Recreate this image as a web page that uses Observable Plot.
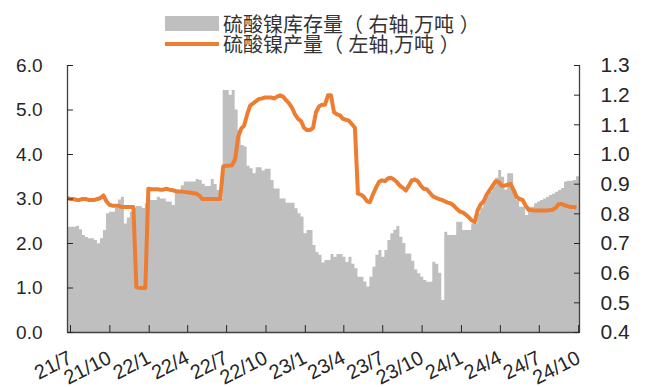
<!DOCTYPE html>
<html><head><meta charset="utf-8">
<script src="https://cdn.jsdelivr.net/npm/d3@7"></script>
<script src="https://cdn.jsdelivr.net/npm/@observablehq/plot@0.6"></script>
<style>
html,body{margin:0;padding:0;background:#fff;}
#wrap{width:651px;height:387px;position:relative;overflow:hidden;font-family:"Liberation Sans",Arial,"Noto Sans CJK SC",sans-serif;}
#legend{position:relative;height:56px;width:651px;}
.sw{position:absolute;left:165px;width:54px;}
.lt{position:absolute;left:223px;font-size:20px;line-height:20px;color:#333;white-space:nowrap;}
#chart svg{display:block;}
</style></head><body>
<div id="wrap">
  <div id="legend">
    <div class="sw" style="top:16px;height:15px;background:#bfbfbf;"></div>
    <div class="lt" id="lab1" style="top:14.5px;"></div>
    <div class="sw" style="top:42px;height:4px;background:#ED7D31;"></div>
    <div class="lt" id="lab2" style="top:35px;"></div>
  </div>
  <div id="chart"></div>
</div>
<script>
// ---- data ----
const seriesNames = ["硫酸镍库存量（ 右轴,万吨 ）", "硫酸镍产量（ 左轴,万吨 ）"];
const firstWeek = "2021-07-01";   // weekly observations
const axisEnd = "2024-10-10";
const tickDates = ["2021-07-01","2021-10-01","2022-01-01","2022-04-01","2022-07-01","2022-10-01","2023-01-01","2023-04-01","2023-07-01","2023-10-01","2024-01-01","2024-04-01","2024-07-01","2024-10-01"];
const tickLabels = ["21/7","21/10","22/1","22/4","22/7","22/10","23/1","23/4","23/7","23/10","24/1","24/4","24/7","24/10"];
const leftTicks = [0, 1, 2, 3, 4, 5, 6];
const rightTicks = [0.4, 0.5, 0.6, 0.7, 0.8, 0.9, 1.0, 1.1, 1.2, 1.3];
// inventory (right axis, 万吨)
const inventory = [
0.755,0.755,0.755,0.758,0.746,0.727,0.72,0.716,0.716,0.71,
0.699,0.716,0.744,0.8,0.805,0.805,0.818,0.847,0.856,0.766,
0.786,0.805,0.818,0.825,0.825,0.818,0.834,0.845,0.845,0.845,
0.856,0.85,0.85,0.84,0.84,0.828,0.879,0.879,0.895,0.907,
0.907,0.907,0.907,0.916,0.912,0.9,0.892,0.892,0.916,0.899,
0.879,0.85,1.216,1.216,1.2,1.216,1.15,1.081,1.03,1.025,
0.96,0.952,0.935,0.955,0.955,0.944,0.95,0.95,0.912,0.884,
0.884,0.85,0.85,0.836,0.836,0.836,0.817,0.8,0.789,0.733,
0.744,0.744,0.693,0.67,0.66,0.634,0.643,0.643,0.663,0.654,
0.663,0.663,0.654,0.636,0.654,0.63,0.615,0.586,0.586,0.57,
0.553,0.586,0.62,0.66,0.676,0.654,0.676,0.71,0.733,0.745,
0.757,0.721,0.7,0.665,0.665,0.64,0.611,0.598,0.586,0.575,
0.569,0.569,0.637,0.63,0.6,0.508,0.738,0.727,0.727,0.727,
0.772,0.772,0.744,0.744,0.744,0.766,0.766,0.8,0.82,0.84,
0.86,0.873,0.89,0.92,0.946,0.923,0.88,0.935,0.935,0.88,
0.845,0.822,0.822,0.794,0.822,0.822,0.834,0.84,0.845,0.85,
0.856,0.862,0.866,0.873,0.879,0.885,0.907,0.91,0.91,0.912,
0.925];
// production (left axis, 万吨)
const production = [
3.02,3.0,3.0,2.98,2.98,3.0,3.0,2.98,2.98,2.98,
3.0,3.02,3.08,2.95,2.87,2.85,2.85,2.85,2.82,2.82,
2.82,2.82,2.82,1.02,1.0,1.0,1.0,3.23,3.22,3.22,
3.22,3.21,3.21,3.23,3.21,3.2,3.18,3.17,3.17,3.16,
3.15,3.14,3.13,3.12,3.08,3.0,3.0,3.0,3.0,3.0,
3.0,3.0,3.73,3.75,3.75,3.76,3.9,4.4,4.58,4.65,
4.9,5.1,5.15,5.2,5.25,5.26,5.28,5.28,5.28,5.26,
5.3,5.33,5.3,5.22,5.15,5.05,4.9,4.8,4.75,4.6,
4.55,4.55,4.6,4.95,5.08,5.12,5.12,5.33,5.33,4.95,
4.9,4.88,4.8,4.78,4.76,4.68,4.6,3.12,3.1,3.05,
2.95,2.93,3.1,3.25,3.38,3.42,3.4,3.46,3.48,3.44,
3.38,3.3,3.25,3.19,3.3,3.42,3.44,3.4,3.3,3.23,
3.22,3.14,3.06,3.03,3.0,2.98,2.95,2.92,2.9,2.85,
2.78,2.72,2.7,2.65,2.59,2.52,2.48,2.75,2.88,2.95,
3.1,3.2,3.3,3.4,3.38,3.3,3.3,3.32,3.34,3.2,
3.05,3.0,2.98,2.85,2.76,2.75,2.74,2.74,2.74,2.74,
2.74,2.75,2.76,2.8,2.88,2.89,2.86,2.84,2.82,2.82,
2.81];

// ---- build ----
document.getElementById("lab1").textContent = seriesNames[0];
document.getElementById("lab2").textContent = seriesNames[1];

const parse = d3.utcParse("%Y-%m-%d");
const start = parse(firstWeek), end = parse(axisEnd);
const weeks = inventory.map((_, i) => d3.utcDay.offset(start, 7 * i));
const rMin = rightTicks[0], rMax = rightTicks[rightTicks.length - 1];
const lMax = leftTicks[leftTicks.length - 1];
const toLeft = v => (v - rMin) / (rMax - rMin) * lMax;
const fromLeft = y => rMin + y / lMax * (rMax - rMin);

const invTable = inventory.map((v, i) => ({date: weeks[i], v}));
invTable.push({date: end, v: inventory[inventory.length - 1]});
const prodTable = production.map((v, i) => ({date: weeks[i], v}));
const tickTimes = tickDates.map(parse);
const labelByTime = new Map(tickTimes.map((d, i) => [+d, tickLabels[i]]));
const f1 = d3.format(".1f");

const chart = Plot.plot({
  width: 651, height: 331,
  marginLeft: 67, marginRight: 72, marginTop: 9, marginBottom: 55,
  style: {fontFamily: "'Liberation Sans', Arial, sans-serif", fontSize: "19px", color: "#262626", background: "white", overflow: "visible"},
  x: {type: "utc", domain: [start, end]},
  y: {domain: [0, lMax]},
  marks: [
    Plot.areaY(invTable, {x: "date", y: d => toLeft(d.v), curve: "step-after", fill: "#bfbfbf"}),
    Plot.lineY(prodTable, {x: "date", y: "v", stroke: "#ED7D31", strokeWidth: 4, strokeLinejoin: "round", strokeLinecap: "butt"}),
    Plot.ruleX([start], {stroke: "#404040", strokeWidth: 1.3}),
    Plot.ruleX([end], {stroke: "#404040", strokeWidth: 1.3}),
    Plot.ruleY([0], {stroke: "#404040", strokeWidth: 1.3}),
    Plot.axisY({anchor: "left", ticks: leftTicks, tickFormat: f1, tickSize: -6, tickPadding: 31, label: null}),
    Plot.axisY({anchor: "right", ticks: rightTicks.map(toLeft), tickFormat: d => f1(fromLeft(d)), tickSize: -6, tickPadding: 27, label: null, fontSize: 21}),
    Plot.axisX({ticks: tickTimes, tickFormat: d => labelByTime.get(+d), tickSize: -7, tickPadding: 31, tickRotate: -27, dx: 3, fontSize: 20, label: null})
  ]
});
document.getElementById("chart").appendChild(chart);
</script>
</body></html>
